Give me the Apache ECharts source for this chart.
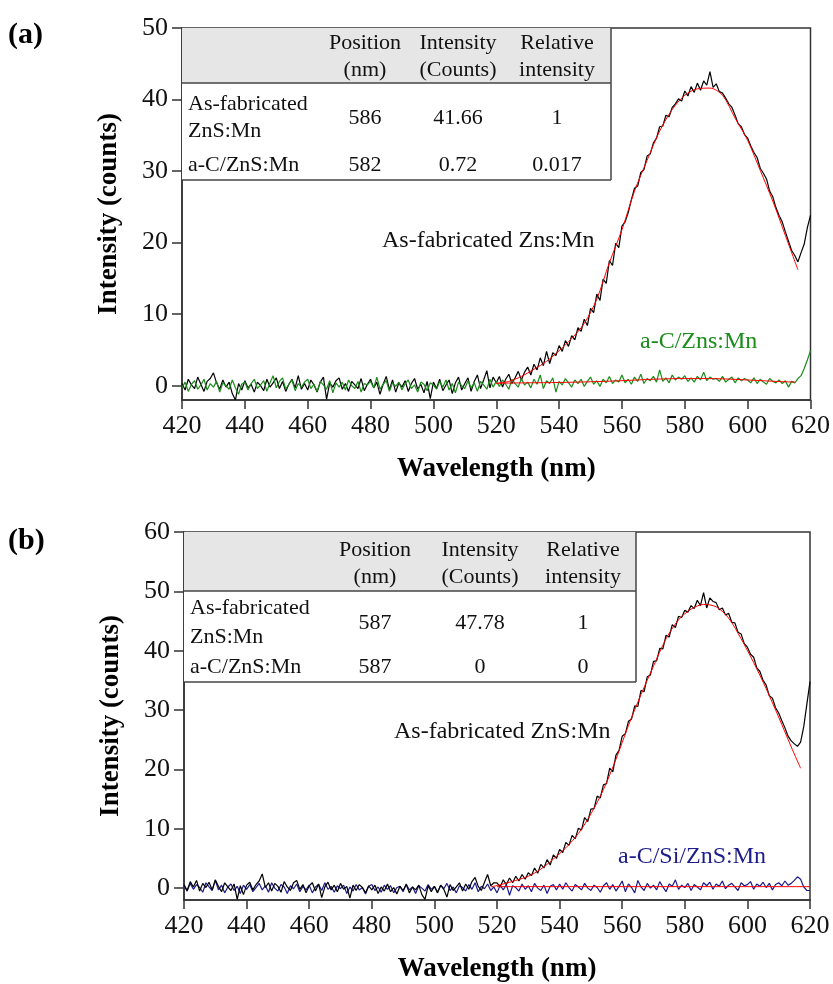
<!DOCTYPE html>
<html>
<head>
<meta charset="utf-8">
<script src="https://cdn.jsdelivr.net/npm/echarts@6/dist/echarts.min.js"></script>
<style>
html,body{margin:0;padding:0;background:#fff;}
#c{width:833px;height:984px;}
</style>
</head>
<body>
<div id="c"></div>
<script>
// ---------------- DATA ----------------
const wlStart = 420, wlEnd = 620; // 1 nm sampling grid
const xTicks = [420, 440, 460, 480, 500, 520, 540, 560, 580, 600, 620];
const yTicksA = [0, 10, 20, 30, 40, 50];
const yTicksB = [0, 10, 20, 30, 40, 50, 60];

// Panel (a): As-fabricated ZnS:Mn (black), 420..620 nm
const asFabA = [
 0.3,-0.6,0.9,0.1,-0.4,1.2,0.2,-0.8,0.6,1.0,
 1.8,0.4,-0.5,0.8,-0.2,0.5,-1.1,-2.0,0.3,-0.6,
 0.7,-0.3,0.2,-0.9,0.5,0.0,-0.7,0.9,-0.2,0.4,
 1.1,-0.4,0.6,-0.8,0.2,0.9,-0.3,1.4,-0.5,0.3,
 -0.6,0.8,0.1,-0.9,0.5,1.2,-1.9,0.4,-0.2,0.7,
 1.1,-0.5,0.3,-0.8,0.6,0.1,-0.4,1.0,-0.7,0.2,
 0.9,-0.3,0.5,-1.2,0.2,1.3,-0.6,0.8,-0.9,0.4,
 -0.2,0.7,-0.8,0.3,1.0,-0.5,0.2,-1.0,0.6,-1.8,
 0.5,-0.4,0.9,-0.7,0.1,0.8,-1.1,0.4,1.2,-0.6,
 0.3,1.1,-0.8,0.6,1.5,-0.4,0.8,2.1,-0.3,1.2,
 0.4,1.3,-0.2,0.9,1.6,0.3,1.1,2.0,0.8,1.9,
 2.6,1.5,3.0,2.2,3.9,2.8,4.8,3.1,4.6,4.2,
 5.6,4.8,6.3,5.5,7.0,6.4,8.1,7.6,9.3,8.4,
 10.8,10.2,12.8,11.9,14.9,14.3,17.5,16.8,19.9,19.3,
 22.3,22.9,24.2,26.0,27.6,27.9,29.8,30.2,32.1,32.4,
 33.9,34.6,36.2,36.3,37.8,37.6,38.9,39.4,40.1,39.8,
 41.2,40.5,41.8,41.0,42.3,41.3,42.6,42.0,43.9,41.7,
 42.2,41.1,40.9,40.2,39.4,38.9,37.8,36.6,36.2,35.1,
 34.6,33.5,32.6,31.9,30.4,29.7,28.9,27.2,26.4,24.9,
 23.8,22.9,21.5,20.2,18.9,18.2,17.3,18.6,19.8,22.1,
 23.8
];
// Panel (a): a-C/ZnS:Mn (green)
const aCA = [
 -0.3,0.5,-0.8,0.2,0.7,-0.5,0.1,0.9,-0.6,0.3,
 -0.2,0.6,-0.9,0.4,0.0,-0.5,0.8,-0.3,-1.2,0.2,
 0.5,-0.6,0.3,0.9,-0.4,0.1,0.7,-0.8,0.4,1.4,
 -0.3,0.6,1.1,-0.5,0.2,0.8,-0.7,0.3,-0.2,0.5,
 0.9,-0.4,0.2,-0.8,0.6,0.1,-0.5,0.7,-1.0,0.4,
 -0.2,0.5,-0.6,0.8,0.0,-0.4,0.6,-0.9,0.3,0.1,
 0.6,-0.3,1.2,-0.5,0.2,0.7,-0.8,0.4,-0.1,0.5,
 -0.6,0.3,0.8,-0.4,0.1,-0.9,0.5,0.2,-0.7,0.4,
 0.1,-0.5,0.6,-0.2,0.8,-0.6,0.3,-1.0,0.5,0.0,
 -0.4,0.7,-0.3,0.4,-0.8,0.6,0.1,-0.5,0.9,-0.2,
 0.6,-0.1,0.8,0.2,-0.5,0.9,0.3,-0.2,1.0,0.1,
 0.5,-0.3,0.9,0.2,1.5,-0.4,0.7,0.3,1.1,-0.9,
 0.6,0.1,1.0,0.4,-0.2,0.8,0.3,0.9,-0.1,0.6,
 1.2,0.2,0.7,-0.1,0.9,0.4,1.3,0.3,0.8,0.5,
 1.5,0.4,0.9,0.2,1.2,0.6,1.6,0.3,1.0,0.7,
 1.3,0.5,2.2,0.6,1.1,0.4,1.5,0.8,1.2,0.9,
 1.4,0.6,1.1,0.5,1.3,0.8,1.9,0.7,1.2,0.9,
 1.0,0.6,1.3,0.5,0.9,1.2,0.4,1.1,0.7,1.0,
 0.8,0.4,1.1,0.3,0.9,0.5,0.2,1.0,0.6,0.4,
 0.8,0.3,0.7,-0.2,0.6,0.4,1.0,1.4,2.4,3.6,
 4.9
];
// Panel (a) fits (red)
const fitA1X = [520,524,528,532,536,540,544,548,552,556,560,564,568,572,576,580,584,588,592,596,600,604,608,612,616];
const fitA1Y = [0.3,0.6,1.3,2.3,3.4,4.9,6.6,8.7,12.1,17.2,21.8,27.2,31.5,35.6,38.6,40.6,41.5,41.6,40.6,37.4,34.3,30.1,25.8,21.0,16.2];
const fitA2X = [520,530,540,550,560,570,580,590,600,610,615];
const fitA2Y = [0.35,0.4,0.45,0.55,0.7,0.9,1.0,0.98,0.8,0.58,0.5];

// Panel (b): As-fabricated ZnS:Mn (black)
const asFabB = [
 0.6,-0.4,1.1,0.2,1.3,-0.5,0.8,0.1,1.0,-0.3,
 1.4,0.3,-0.6,0.9,0.2,-0.4,0.7,-1.9,0.4,-1.1,
 0.5,1.0,-0.3,0.6,1.2,2.4,0.1,0.9,-0.5,0.8,
 0.3,-0.7,1.1,0.2,-0.4,0.9,1.3,-0.2,0.6,-0.8,
 0.4,0.9,-0.5,0.7,-1.6,0.2,1.0,-0.3,0.5,-0.6,
 0.8,-0.2,0.3,-1.7,0.5,-0.4,0.6,0.1,-0.8,0.4,
 -0.3,0.5,-0.9,0.2,-0.5,0.7,-0.6,0.1,-1.0,0.3,
 -0.4,0.6,-0.8,0.2,-0.3,0.5,-1.1,-1.9,0.4,-0.6,
 0.3,-0.8,0.5,-0.2,-1.5,0.6,-0.4,0.2,0.9,-0.5,
 0.7,-0.2,1.1,1.8,0.3,-0.4,1.0,2.3,0.4,0.9,
 0.9,0.2,1.4,0.6,1.7,0.9,2.0,1.2,2.3,1.5,
 2.6,2.1,3.4,2.5,4.0,3.4,4.8,3.9,5.6,5.0,
 6.5,6.0,7.7,7.2,8.9,8.3,10.1,9.8,11.9,11.2,
 13.3,13.4,15.5,15.2,17.4,17.6,20.2,19.6,22.4,23.2,
 25.6,26.0,28.1,28.5,30.7,30.6,33.3,33.1,35.6,35.9,
 38.2,38.3,40.4,40.3,42.6,42.3,44.4,43.9,45.8,45.6,
 46.8,46.5,47.6,47.1,48.5,47.6,49.8,47.2,48.9,48.3,
 48.1,46.9,47.2,46.0,46.3,44.8,44.7,43.1,42.8,41.2,
 40.6,39.4,38.9,37.1,36.5,35.0,34.2,32.4,32.0,30.4,
 29.5,28.2,27.0,25.6,24.8,24.3,23.9,24.6,27.2,31.0,
 34.8
];
// Panel (b): a-C/Si/ZnS:Mn (blue)
const aCSiB = [
 0.4,-0.5,0.8,-0.2,0.6,0.1,-0.7,0.9,0.2,-0.4,
 1.3,-0.3,0.5,-0.8,0.2,0.7,-0.4,0.3,-0.9,0.5,
 -0.2,0.6,-0.6,0.1,0.8,-0.3,0.4,-0.7,0.9,0.0,
 -0.5,0.6,0.2,-0.9,0.4,-0.1,0.7,-0.6,0.3,-0.3,
 0.5,-0.8,0.2,0.6,-0.4,0.9,-0.2,0.3,-0.7,0.4,
 -0.1,0.5,-0.9,0.2,-0.5,0.6,-0.3,0.1,-1.0,0.3,
 0.6,-0.4,0.2,-0.7,0.5,-0.2,0.4,-0.8,0.1,0.3,
 -0.6,0.7,-0.3,0.2,-0.9,0.4,0.0,-0.5,0.6,-0.2,
 0.3,-0.7,0.5,-0.1,0.8,-0.4,0.2,-0.8,0.4,0.1,
 -0.5,0.6,-0.2,0.9,-0.6,0.3,-0.1,0.7,-0.4,0.2,
 -0.8,0.5,-0.3,0.6,-1.2,0.4,0.1,-0.5,0.7,-0.2,
 0.4,-0.6,0.8,0.0,-0.4,0.5,-0.9,0.3,0.6,-0.3,
 0.7,-0.2,0.9,0.1,-0.5,0.6,0.2,-0.3,0.8,0.0,
 -0.4,0.5,0.1,-0.7,0.4,0.9,-0.2,0.6,-0.5,0.3,
 1.2,-0.6,0.7,0.1,-0.8,1.3,0.2,-0.4,0.8,0.0,
 0.5,-0.3,1.1,0.2,-0.6,0.7,0.3,1.4,-0.2,0.5,
 0.1,0.8,-0.4,0.6,0.2,-0.3,0.9,0.4,1.0,-0.2,
 0.7,0.3,1.2,-0.1,0.5,0.8,0.2,-0.4,0.9,0.4,
 0.6,1.1,-0.2,0.7,0.3,1.0,0.1,0.8,-0.3,0.6,
 0.9,0.4,1.2,0.5,0.8,1.3,1.9,1.5,0.2,-0.4,
 -0.4
];
// Panel (b) fits (red)
const fitB1X = [518,522,526,530,534,538,542,546,550,554,558,562,566,570,574,578,582,586,590,594,598,602,606,610,614,617];
const fitB1Y = [0.2,0.7,1.3,2.0,3.2,4.9,6.8,9.2,12.5,16.6,21.7,27.4,32.6,37.4,42.0,45.2,47.0,47.8,47.4,45.5,42.0,38.0,33.6,28.8,23.8,20.2];
const fitB2X = [520,620];
const fitB2Y = [0.25,0.25];

// Inset tables
const tableHeader = [["Position","(nm)"],["Intensity","(Counts)"],["Relative","intensity"]];
const tableRowNames = [["As-fabricated","ZnS:Mn"],["a-C/ZnS:Mn"]];
const tableA = [["586","41.66","1"],["582","0.72","0.017"]];
const tableB = [["587","47.78","1"],["587","0","0"]];

// Curve labels
const labelsA = ["As-fabricated Zns:Mn","a-C/Zns:Mn"];
const labelsB = ["As-fabricated ZnS:Mn","a-C/Si/ZnS:Mn"];

// ---------------- BUILD ----------------
const FONT = 'Liberation Serif, Times New Roman, DejaVu Serif, serif';
function pairs(xs, ys){ return ys.map((v,i)=>[xs[i], v]); }
const wl = []; for (let w = wlStart; w <= wlEnd; w++) wl.push(w);

const chart = echarts.init(document.getElementById('c'), null, {renderer:'canvas'});

function xAxisDef(gi, gap){
  return {
    type:'value', gridIndex:gi, min:420, max:620, interval:20,
    name:'Wavelength (nm)', nameLocation:'middle', nameGap:gap,
    nameTextStyle:{fontFamily:FONT, fontWeight:'bold', fontSize:27, color:'#000'},
    axisLine:{show:true, onZero:false, lineStyle:{color:'#333', width:1.5}},
    axisTick:{show:true, inside:false, length:9, lineStyle:{color:'#333', width:1.5}},
    axisLabel:{fontFamily:FONT, fontSize:26, color:'#111', margin:13},
    splitLine:{show:false}
  };
}
function yAxisDef(gi, max, ticks){
  return {
    type:'value', gridIndex:gi, min:-2, max:max,
    name:'Intensity (counts)', nameLocation:'middle', nameGap:59,
    nameTextStyle:{fontFamily:FONT, fontWeight:'bold', fontSize:27, color:'#000'},
    axisLine:{show:true, onZero:false, lineStyle:{color:'#333', width:1.5}},
    axisTick:{show:true, inside:false, length:10, customValues:ticks, lineStyle:{color:'#333', width:1.5}},
    axisLabel:{fontFamily:FONT, fontSize:26, color:'#111', margin:14, customValues:ticks},
    splitLine:{show:false}
  };
}
function lineSeries(xi, data, color, z, w){
  return {type:'line', xAxisIndex:xi, yAxisIndex:xi, data:data, showSymbol:false, symbol:'none',
    lineStyle:{color:color, width:w||1}, z:z, animation:false, silent:true};
}

// Tables as graphics
function tableGraphics(cfg, vals){
  const g = [];
  const lc = '#444';
  g.push({type:'rect', shape:{x:cfg.x0, y:cfg.y0, width:cfg.x1-cfg.x0, height:cfg.yh-cfg.y0}, style:{fill:'#e6e6e6'}, z:50});
  g.push({type:'rect', shape:{x:cfg.x0, y:cfg.yh, width:cfg.x1-cfg.x0, height:cfg.y1-cfg.yh}, style:{fill:'#fff'}, z:50});
  g.push({type:'line', shape:{x1:cfg.x0, y1:cfg.yh, x2:cfg.x1, y2:cfg.yh}, style:{stroke:lc, lineWidth:1.5}, z:60});
  g.push({type:'line', shape:{x1:cfg.x0, y1:cfg.y1, x2:cfg.x1, y2:cfg.y1}, style:{stroke:lc, lineWidth:1.5}, z:60});
  g.push({type:'line', shape:{x1:cfg.x1, y1:cfg.y0, x2:cfg.x1, y2:cfg.y1}, style:{stroke:lc, lineWidth:1.5}, z:60});
  const ts = {fontFamily:FONT, fontSize:22, fill:'#111', align:'center', verticalAlign:'middle'};
  tableHeader.forEach((h,ci)=>{
    h.forEach((t,li)=>{
      g.push({type:'text', x:cfg.cols[ci], y:cfg.hy[li], style:Object.assign({}, ts, {text:t}), z:70});
    });
  });
  tableRowNames.forEach((r,ri)=>{
    r.forEach((t,li)=>{
      g.push({type:'text', x:cfg.x0+6, y:cfg.ry[ri][li], style:Object.assign({}, ts, {text:t, align:'left'}), z:70});
    });
    vals[ri].forEach((v,ci)=>{
      g.push({type:'text', x:cfg.cols[ci], y:cfg.vy[ri], style:Object.assign({}, ts, {text:v}), z:70});
    });
  });
  return g;
}

const graphics = [].concat(
  tableGraphics({x0:182, x1:611, y0:28, yh:83, y1:180, cols:[365,458,557], hy:[43,70], ry:[[104,131],[165]], vy:[118,165]}, tableA),
  tableGraphics({x0:184, x1:636, y0:532, yh:591, y1:682, cols:[375,480,583], hy:[550,577], ry:[[608,637],[667]], vy:[623,667]}, tableB),
  [
    {type:'text', left:8, top:20, style:{text:'(a)', fontFamily:FONT, fontWeight:'bold', fontSize:30, fill:'#000'}, z:80},
    {type:'text', left:8, top:526, style:{text:'(b)', fontFamily:FONT, fontWeight:'bold', fontSize:30, fill:'#000'}, z:80},
    {type:'text', x:382, y:241, style:{text:labelsA[0], fontFamily:FONT, fontSize:24, fill:'#111', verticalAlign:'middle'}, z:80},
    {type:'text', x:640, y:342, style:{text:labelsA[1], fontFamily:FONT, fontSize:24, fill:'#1a8c1a', verticalAlign:'middle'}, z:80},
    {type:'text', x:394, y:732, style:{text:labelsB[0], fontFamily:FONT, fontSize:24, fill:'#111', verticalAlign:'middle'}, z:80},
    {type:'text', x:618, y:857, style:{text:labelsB[1], fontFamily:FONT, fontSize:24, fill:'#1c1c8a', verticalAlign:'middle'}, z:80}
  ]
);

const option = {
  backgroundColor:'#fff',
  animation:false,
  textStyle:{fontFamily:FONT},
  grid:[
    {left:182, top:28, width:629, height:372, show:true, borderColor:'#333', borderWidth:1.5, backgroundColor:'transparent'},
    {left:184, top:532, width:626, height:371, show:true, borderColor:'#333', borderWidth:1.5, backgroundColor:'transparent'}
  ],
  xAxis:[xAxisDef(0,56), xAxisDef(1,56)],
  yAxis:[yAxisDef(0,50,yTicksA), yAxisDef(1,60,yTicksB)],
  series:[
    lineSeries(0, pairs(wl, asFabA), '#000000', 2, 1.2),
    lineSeries(0, pairs(wl, aCA), '#1a8c1a', 3, 1.2),
    lineSeries(0, pairs(fitA1X, fitA1Y), '#ff0000', 4),
    lineSeries(0, pairs(fitA2X, fitA2Y), '#ff0000', 4),
    lineSeries(1, pairs(wl, aCSiB), '#1c1c8a', 2, 1.2),
    lineSeries(1, pairs(wl, asFabB), '#000000', 3, 1.2),
    lineSeries(1, pairs(fitB1X, fitB1Y), '#ff0000', 4),
    lineSeries(1, pairs(fitB2X, fitB2Y), '#ff0000', 4)
  ],
  graphic:graphics
};
option.series.forEach(s=>{ if (s.data.length <= 30) { s.smooth = 0.3; } });
chart.setOption(option);
</script>
</body>
</html>
